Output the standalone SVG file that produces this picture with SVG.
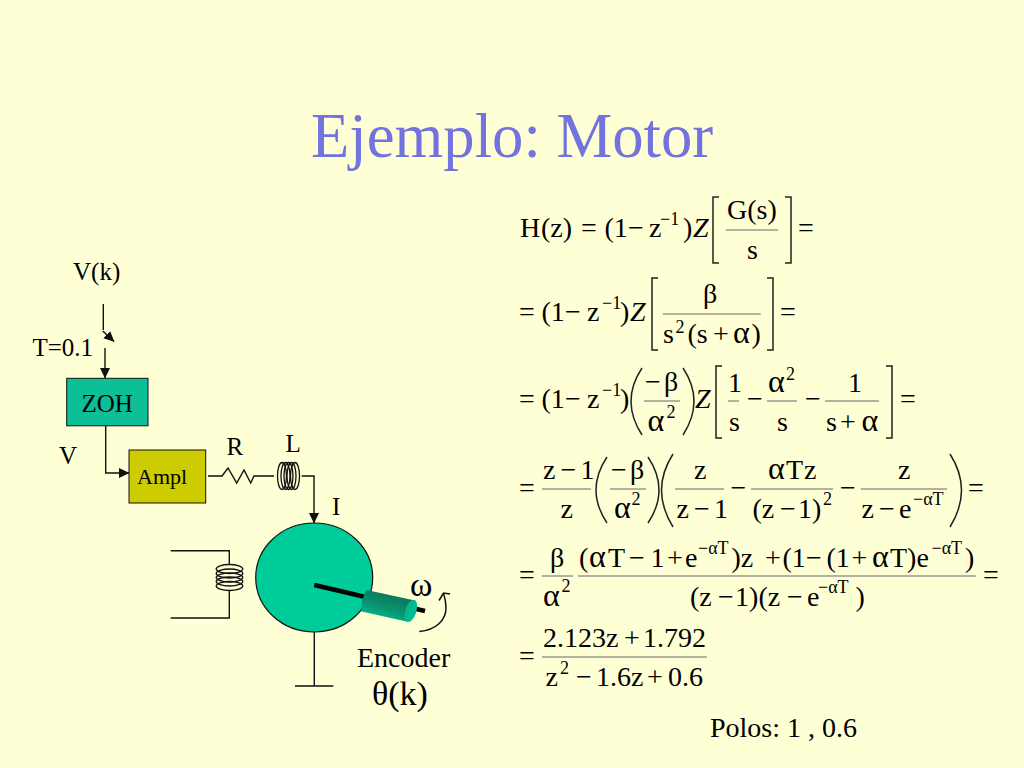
<svg xmlns="http://www.w3.org/2000/svg" width="1024" height="768" viewBox="0 0 1024 768">
<style>
text{font-family:"Liberation Serif","Times New Roman",serif;fill:#000}
.lb{font-size:25px}
.eq{font-size:28px}
.s{font-size:18px}
.z{font-style:italic}
.g{font-size:32px}
.ln{stroke:#111;stroke-width:1.4;fill:none}
.fr{stroke:#666;stroke-width:1.2;fill:none}
.br{stroke:#222;stroke-width:1.5;fill:none}
.coil{stroke:#111;stroke-width:1.300;fill:none}
</style>
<defs>
<marker id="ah" markerWidth="11" markerHeight="10" refX="10" refY="5" orient="auto" markerUnits="userSpaceOnUse"><path d="M0 0L10.500 5L0 10z" fill="#111"/></marker>
<linearGradient id="enc" gradientUnits="userSpaceOnUse" x1="368" y1="588" x2="360" y2="616"><stop offset="0" stop-color="#0a7a5c"/><stop offset="0.45" stop-color="#0a8f6c"/><stop offset="1" stop-color="#00c093"/></linearGradient>
</defs>
<rect width="1024" height="768" fill="#ffffd6"/>
<text id="title" x="311" y="157" font-size="62.700" style="fill:#7373e0">Ejemplo: Motor</text>

<g id="connectors">
<path class="ln" d="M103.300 304V330"/>
<path class="ln" d="M102.700 331L114 341.500" marker-end="url(#ah)"/>
<path class="ln" d="M105 348V378" marker-end="url(#ah)"/>
<path class="ln" d="M105.700 426V473H129" marker-end="url(#ah)"/>
<path class="ln" d="M208 476H222L228 468L236.700 483L244 470L250.700 483L254 476H274"/>
<path class="ln" d="M301.700 476H314V523" marker-end="url(#ah)"/>
<path class="ln" d="M170.700 550.700H229.300V565M229.300 590V618H170.700"/>
<path class="ln" d="M314.300 632V686M295 686H333.300"/>
</g>

<g id="zoh"><rect x="66.700" y="378.300" width="81.300" height="47.500" fill="#0cbf97" stroke="#111" stroke-width="1"/><text class="lb" x="81.500" y="411.500">ZOH</text></g>
<g id="ampl"><rect x="129" y="450" width="76.700" height="53" fill="#cccc00" stroke="#111" stroke-width="1"/><text x="137" y="484" font-size="22">Ampl</text></g>
<g id="coil-l" class="coil"><ellipse cx="282" cy="476" rx="4.500" ry="13.500"/><ellipse cx="285.500" cy="476" rx="4.500" ry="13.500"/><ellipse cx="288.500" cy="476" rx="4.500" ry="13.500"/><ellipse cx="291.500" cy="476" rx="4.500" ry="13.500"/><ellipse cx="295" cy="476" rx="4.500" ry="13.500"/></g>
<g id="coil-field" class="coil"><ellipse cx="229.500" cy="569" rx="13.300" ry="4.500"/><ellipse cx="229.500" cy="573.500" rx="13.300" ry="4.500"/><ellipse cx="229.500" cy="577.500" rx="13.300" ry="4.500"/><ellipse cx="229.500" cy="581.500" rx="13.300" ry="4.500"/><ellipse cx="229.500" cy="586" rx="13.300" ry="4.500"/></g>
<g id="motor"><ellipse cx="314.200" cy="577.500" rx="58.500" ry="54.500" fill="#00cc99" stroke="#111" stroke-width="1.200"/>
<path d="M314.300 585L425 611" stroke="#000" stroke-width="4.500" fill="none"/></g>
<g id="encoder"><path d="M366.500 590L415 600.500L406.500 621.500L361.500 611.500Q360.500 600 366.500 590z" fill="url(#enc)"/><ellipse cx="410.800" cy="611" rx="5.500" ry="11.500" transform="rotate(18 410.800 611)" fill="#00b98d"/></g>
<path id="rotation" d="M419.300 631.500C436 630 446 620 446 608C446 603 445 598 443.500 593M439 600.500L443.500 593L450 594" fill="none" stroke="#111" stroke-width="1.500"/>

<g id="labels">
<text class="lb" x="73" y="280">V(k)</text>
<text class="lb" x="32.500" y="355.500">T=0.1</text>
<text class="lb" x="59" y="464">V</text>
<text class="lb" x="226.500" y="455">R</text>
<text class="lb" x="285.500" y="451.500">L</text>
<text class="lb" x="332" y="515">I</text>
<text x="410" y="596" font-size="34">ω</text>
<text x="357" y="667" font-size="28">Encoder</text>
<text x="372" y="705" font-size="34">θ(k)</text>
<text x="710" y="737" font-size="28">Polos: 1 , 0.6</text>
</g>

<g id="eq1">
<text class="eq" y="237"><tspan x="520">H</tspan><tspan x="541">(z)</tspan><tspan x="581">=</tspan><tspan x="604.500">(1</tspan><tspan x="628">−</tspan><tspan x="649">z</tspan><tspan x="683">)</tspan><tspan x="693" class="z">Z</tspan><tspan x="798">=</tspan></text>
<text class="s" x="660" y="225">−1</text>
<path class="br" d="M719 197H713V263H719M785 197H791V263H785"/>
<path class="fr" d="M725.700 230H778"/>
<text class="eq" x="727" y="219">G(s)</text><text class="eq" x="747" y="259">s</text>
</g>
<g id="eq2">
<text class="eq" y="321"><tspan x="519">=</tspan><tspan x="541.500">(1</tspan><tspan x="565">−</tspan><tspan x="587">z</tspan><tspan x="620">)</tspan><tspan x="630" class="z">Z</tspan><tspan x="780">=</tspan></text>
<text class="s" x="602" y="309">−1</text>
<path class="br" d="M658 278H652V350H658M767 278H773V350H767"/>
<path class="fr" d="M662.700 314H760.700"/>
<text class="eq" x="703" y="303">β</text>
<text class="eq" y="343"><tspan x="663">s</tspan><tspan x="687.500">(s</tspan><tspan x="713">+</tspan><tspan x="733" class="g">α</tspan><tspan x="751.500">)</tspan></text>
<text class="s" x="675.500" y="333">2</text>
</g>
<g id="eq3">
<text class="eq" y="408"><tspan x="519">=</tspan><tspan x="541.500">(1</tspan><tspan x="565">−</tspan><tspan x="587">z</tspan><tspan x="620">)</tspan><tspan x="695" class="z">Z</tspan><tspan x="900">=</tspan></text>
<text class="s" x="602" y="396">−1</text>
<path class="br" d="M642 368Q620 401 642 435M683 368Q705 401 683 435"/>
<path class="br" d="M722 366H716V438H722M886 366H892V438H886"/>
<text class="eq" y="390.700"><tspan x="645">−</tspan><tspan x="664">β</tspan></text>
<path class="fr" d="M644 401H680M728 401H739M767 401H797M825 401H879"/>
<text class="eq g" x="647.500" y="430.700">α</text><text class="s" x="666.500" y="418">2</text>
<text class="eq" x="728" y="391.500">1</text><text class="eq" x="729" y="430.500">s</text>
<text class="eq" x="747" y="408">−</text>
<text class="eq g" x="768" y="391.500">α</text><text class="s" x="786" y="380">2</text><text class="eq" x="777" y="430.500">s</text>
<text class="eq" x="805" y="408">−</text>
<text class="eq" x="848" y="391.500">1</text>
<text class="eq" y="430.500"><tspan x="826">s</tspan><tspan x="840">+</tspan><tspan x="861.500" class="g">α</tspan></text>
</g>
<g id="eq4">
<text class="eq" x="519" y="497">=</text>
<text class="eq" y="479"><tspan x="543">z</tspan><tspan x="560.500">−</tspan><tspan x="580.500">1</tspan><tspan x="611">−</tspan><tspan x="630">β</tspan><tspan x="694">z</tspan><tspan x="768" class="g">α</tspan><tspan x="786">T</tspan><tspan x="804">z</tspan><tspan x="898">z</tspan></text>
<path class="fr" d="M542 489H591M610 489H646M675 489H724M751 489H833M860.700 489H947"/>
<text class="eq" y="518"><tspan x="560.500">z</tspan><tspan x="614" class="g">α</tspan><tspan x="676.500">z</tspan><tspan x="694">−</tspan><tspan x="714">1</tspan><tspan x="752.500">(z</tspan><tspan x="780">−</tspan><tspan x="798">1)</tspan><tspan x="861.500">z</tspan><tspan x="879">−</tspan><tspan x="899">e</tspan></text>
<text class="s" y="505"><tspan x="631.500">2</tspan><tspan x="823">2</tspan><tspan x="913">−αT</tspan></text>
<text class="eq" y="497"><tspan x="730.500">−</tspan><tspan x="840">−</tspan><tspan x="968">=</tspan></text>
<path class="br" d="M607 457Q585 490 607 523M648 457Q670 490 648 523M673 454Q650 490 673 527M950 454Q973 490 950 527"/>
</g>
<g id="eq5">
<text class="eq" x="519" y="584">=</text>
<text class="eq" x="550" y="566.500">β</text>
<path class="fr" d="M542 576H573M578 576H975.700"/>
<text class="eq g" x="543" y="606">α</text><text class="s" x="561.500" y="592">2</text>
<text class="eq" y="566.700"><tspan x="579">(</tspan><tspan x="589" class="g">α</tspan><tspan x="608">T</tspan><tspan x="629">−</tspan><tspan x="650.500">1</tspan><tspan x="667">+</tspan><tspan x="685">e</tspan><tspan x="731.500">)z</tspan><tspan x="765">+</tspan><tspan x="782.500">(1</tspan><tspan x="806">−</tspan><tspan x="826.500">(1</tspan><tspan x="851.500">+</tspan><tspan x="872" class="g">α</tspan><tspan x="890">T)e</tspan><tspan x="965">)</tspan></text>
<text class="s" y="553.500"><tspan x="698">−αT</tspan><tspan x="931.500">−αT</tspan></text>
<text class="eq" y="606"><tspan x="690">(z</tspan><tspan x="718">−</tspan><tspan x="735">1)</tspan><tspan x="758.500">(z</tspan><tspan x="787">−</tspan><tspan x="807">e</tspan><tspan x="855.500">)</tspan></text>
<text class="s" x="818" y="593">−αT</text>
<text class="eq" x="983" y="584">=</text>
</g>
<g id="eq6">
<text class="eq" x="519" y="665">=</text>
<text class="eq" y="646.700"><tspan x="543">2.123z</tspan><tspan x="624">+</tspan><tspan x="643">1.792</tspan></text>
<path class="fr" d="M542 657H706.700"/>
<text class="eq" y="686"><tspan x="545.500">z</tspan><tspan x="576">−</tspan><tspan x="596">1.6z</tspan><tspan x="647">+</tspan><tspan x="668">0.6</tspan></text>
<text class="s" x="560" y="674">2</text>
</g>
</svg>
